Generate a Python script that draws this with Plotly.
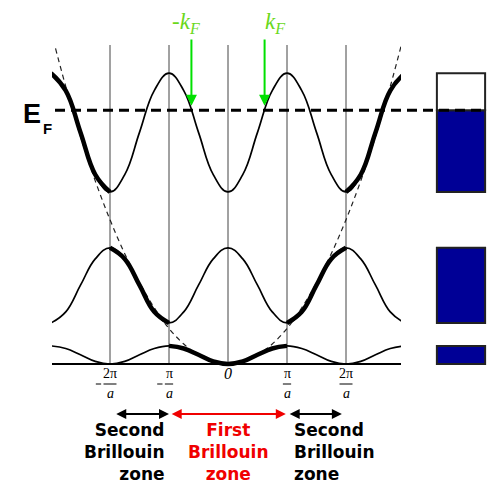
import plotly.graph_objects as go

# Wave vector in units of pi/a, sampled every quarter
k = [-3.0, -2.75, -2.5, -2.25, -2.0, -1.75, -1.5, -1.25, -1.0, -0.75, -0.5, -0.25,
     0.0, 0.25, 0.5, 0.75, 1.0, 1.25, 1.5, 1.75, 2.0, 2.25, 2.5, 2.75, 3.0]

# Energies (arbitrary units) of the three lowest bands, repeated-zone scheme
band1 = [0.49, 0.42, 0.25, 0.07, 0.0, 0.07, 0.25, 0.42, 0.49, 0.42, 0.25, 0.07,
         0.0, 0.07, 0.25, 0.42, 0.49, 0.42, 0.25, 0.07, 0.0, 0.07, 0.25, 0.42, 0.49]
band2 = [1.11, 1.41, 2.13, 2.84, 3.14, 2.84, 2.13, 1.41, 1.11, 1.41, 2.13, 2.84,
         3.14, 2.84, 2.13, 1.41, 1.11, 1.41, 2.13, 2.84, 3.14, 2.84, 2.13, 1.41, 1.11]
band3 = [7.86, 7.39, 6.26, 5.12, 4.65, 5.12, 6.26, 7.39, 7.86, 7.39, 6.26, 5.12,
         4.65, 5.12, 6.26, 7.39, 7.86, 7.39, 6.26, 5.12, 4.65, 5.12, 6.26, 7.39, 7.86]

# Free-electron parabola (dashed)
free = [9.0, 7.5, 6.15, 4.95, 3.9, 2.98, 2.2, 1.52, 0.96, 0.54, 0.24, 0.06,
        0.0, 0.06, 0.24, 0.54, 0.96, 1.52, 2.2, 2.98, 3.9, 4.95, 6.15, 7.5, 9.0]

# Fermi level and Fermi wave vector
E_F = 6.86
k_F = 0.62

# Zone boundaries / tick labels
tick_k = [-2, -1, 0, 1, 2]
tick_num = ["2π", "π", "0", "π", "2π"]
tick_den = ["a", "a", "", "a", "a"]
tick_neg = [True, True, False, False, False]

# Which |k| range belongs to which Brillouin zone, per band
zone_ranges = [(0, 1), (1, 2), (2, 3)]
bands = [band1, band2, band3]

W, H = 493, 483
X_RANGE = [-2.983, 2.932]
Y_RANGE = [-3.216, 8.622]


def ypx(p):
    """Energy value lying at a given pixel row (for label placement)."""
    return (364 - p) / 37.0


fig = go.Figure()

# free-electron parabola
fig.add_trace(go.Scatter(x=k, y=free, mode="lines", hoverinfo="skip",
                         line=dict(color="#222", width=1.2, dash="5px,4px", shape="spline")))

# thin full bands
for b in bands:
    fig.add_trace(go.Scatter(x=k, y=b, mode="lines", hoverinfo="skip",
                             line=dict(color="black", width=1.7, shape="spline", smoothing=1.2)))

# thick parts: each band inside its own Brillouin zone
for b, (lo, hi) in zip(bands, zone_ranges):
    xs, ys = [], []
    if lo == 0:
        segs = [(-hi, hi)]
    else:
        segs = [(-hi, -lo), (lo, hi)]
    for a, c in segs:
        for kk, ee in zip(k, b):
            if a <= kk <= c:
                xs.append(kk)
                ys.append(ee)
        xs.append(None)
        ys.append(None)
    fig.add_trace(go.Scatter(x=xs, y=ys, mode="lines", hoverinfo="skip", connectgaps=False,
                             line=dict(color="black", width=4.5, shape="spline", smoothing=1.2)))

# allowed-energy bars at the right
NAVY = "#000096"
for b in bands:
    lo, hi = min(b), max(b)
    top_fill = min(hi, E_F)
    fig.add_trace(go.Bar(x=[0.5], y=[top_fill - lo], base=[lo], width=1, xaxis="x2", yaxis="y",
                         marker=dict(color=NAVY, line=dict(color="#222", width=2)),
                         hoverinfo="skip"))
    if hi > E_F:
        fig.add_trace(go.Bar(x=[0.5], y=[hi - E_F], base=[E_F], width=1, xaxis="x2", yaxis="y",
                             marker=dict(color="white", line=dict(color="#222", width=2)),
                             hoverinfo="skip"))

shapes = []
# zone boundary lines
for kk in tick_k:
    shapes.append(dict(type="line", xref="x", yref="y", x0=kk, x1=kk, y0=0, y1=Y_RANGE[1],
                       line=dict(color="#444", width=1), layer="below"))
# k axis
shapes.append(dict(type="line", xref="x", yref="y", x0=X_RANGE[0], x1=X_RANGE[1], y0=0, y1=0,
                   line=dict(color="black", width=2), layer="below"))
# Fermi level
shapes.append(dict(type="line", xref="paper", yref="y", x0=55 / W, x1=487 / W, y0=E_F, y1=E_F,
                   line=dict(color="black", width=3, dash="10px,6px"), layer="above"))

annotations = []
SERIF = "Liberation Serif"
for kk, num, den, neg in zip(tick_k, tick_num, tick_den, tick_neg):
    if den:
        annotations.append(dict(x=kk, y=ypx(373), xref="x", yref="y", text=num, showarrow=False,
                                font=dict(family=SERIF, size=14, color="black"),
                                xanchor="center", yanchor="middle"))
        annotations.append(dict(x=kk, y=ypx(393), xref="x", yref="y", text="<i>" + den + "</i>",
                                showarrow=False, font=dict(family=SERIF, size=14, color="black"),
                                xanchor="center", yanchor="middle"))
        half = 0.11 if len(num) > 1 else 0.07
        shapes.append(dict(type="line", xref="x", yref="y", x0=kk - half, x1=kk + half,
                           y0=ypx(384), y1=ypx(384), line=dict(color="black", width=1)))
        if neg:
            shapes.append(dict(type="line", xref="x", yref="y", x0=kk - half - 0.13,
                               x1=kk - half - 0.04, y0=ypx(384), y1=ypx(384),
                               line=dict(color="black", width=1)))
    else:
        annotations.append(dict(x=kk, y=ypx(373), xref="x", yref="y", text="<i>" + num + "</i>",
                                showarrow=False, font=dict(family=SERIF, size=16, color="black"),
                                xanchor="center", yanchor="middle"))

# Fermi level label
annotations.append(dict(x=21 / W, y=ypx(114), xref="paper", yref="y", text="<b>E</b>",
                        showarrow=False, font=dict(family="Liberation Sans", size=27, color="black"),
                        xanchor="left", yanchor="middle"))
annotations.append(dict(x=41 / W, y=ypx(128), xref="paper", yref="y", text="<b>F</b>",
                        showarrow=False, font=dict(family="Liberation Sans", size=15, color="black"),
                        xanchor="left", yanchor="middle"))

# Fermi wave vector arrows and labels
GREEN_TXT = "#6ad81a"
GREEN = "#00e000"
for sgn, lab, cx in ((-1, "-k", 186 / W), (1, "k", 275 / W)):
    annotations.append(dict(x=sgn * k_F, y=E_F + 0.12, ax=sgn * k_F, ay=ypx(38), xref="x", yref="y",
                            axref="x", ayref="y", text="", showarrow=True, arrowhead=2,
                            arrowsize=1.1, arrowwidth=2, arrowcolor=GREEN))
    annotations.append(dict(x=cx, y=1 - 23 / H, xref="paper", yref="paper",
                            text="<i>" + lab + "<sub>F</sub></i>", showarrow=False,
                            font=dict(family=SERIF, size=23, color=GREEN_TXT),
                            xanchor="center", yanchor="middle"))

# Brillouin zone arrows
zone_arrows = [(-1.92, -1.0, "black"), (-0.98, 0.98, "#f00000"), (1.02, 1.93, "black")]
for a, c, col in zone_arrows:
    annotations.append(dict(x=c, y=ypx(414), ax=a, ay=ypx(414), xref="x", yref="y", axref="x",
                            ayref="y", text="", showarrow=True, arrowhead=2, arrowside="end+start",
                            arrowsize=1, arrowwidth=2, arrowcolor=col))

SANS = "DejaVu Sans"
TEXT_TOP = 1 - 418 / H
annotations.append(dict(x=-1.03, y=TEXT_TOP, xref="x", yref="paper",
                        text="<b>Second<br>Brillouin<br>zone</b>", showarrow=False, align="right",
                        font=dict(family=SANS, size=17, color="black"),
                        xanchor="right", yanchor="top"))
annotations.append(dict(x=0, y=TEXT_TOP, xref="x", yref="paper",
                        text="<b>First<br>Brillouin<br>zone</b>", showarrow=False, align="center",
                        font=dict(family=SANS, size=17, color="#f00000"),
                        xanchor="center", yanchor="top"))
annotations.append(dict(x=1.08, y=TEXT_TOP, xref="x", yref="paper",
                        text="<b>Second<br>Brillouin<br>zone</b>", showarrow=False, align="left",
                        font=dict(family=SANS, size=17, color="black"),
                        xanchor="left", yanchor="top"))

hidden = dict(showgrid=False, zeroline=False, showticklabels=False, showline=False, ticks="")
fig.update_layout(
    width=W, height=H, margin=dict(l=0, r=0, t=0, b=0),
    paper_bgcolor="white", plot_bgcolor="white", showlegend=False, barmode="overlay",
    xaxis=dict(domain=[52 / W, 401 / W], range=X_RANGE, **hidden),
    xaxis2=dict(domain=[434 / W, 488 / W], range=[-0.06, 1.06], anchor="y", **hidden),
    yaxis=dict(domain=[0, 438 / H], range=Y_RANGE, **hidden),
    shapes=shapes, annotations=annotations,
)

fig.write_html("out.html")
